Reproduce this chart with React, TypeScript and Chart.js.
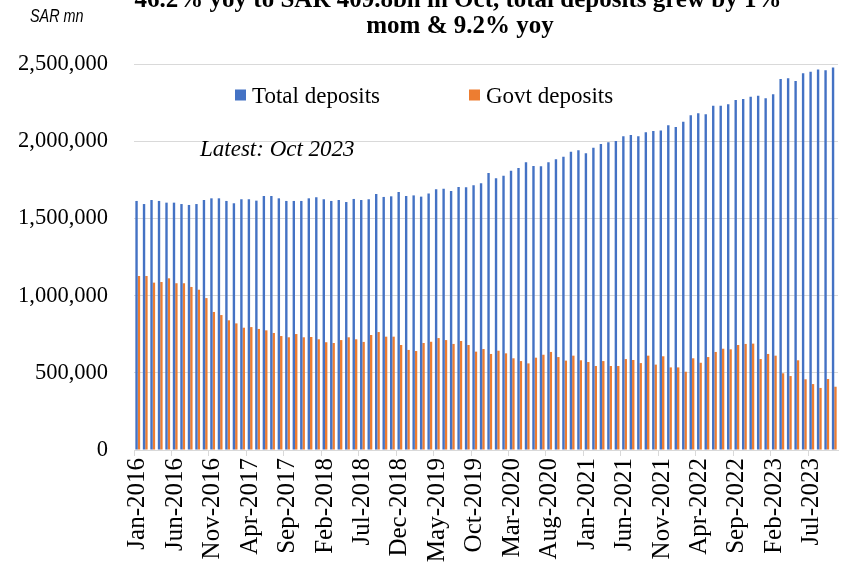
import React, { useEffect, useRef } from "react";
import { Chart, registerables } from "chart.js";

Chart.register(...registerables);

const categories: string[] = [
  "Jan-2016", "Feb-2016", "Mar-2016", "Apr-2016", "May-2016", "Jun-2016", "Jul-2016", "Aug-2016", "Sep-2016", "Oct-2016", "Nov-2016", "Dec-2016",
  "Jan-2017", "Feb-2017", "Mar-2017", "Apr-2017", "May-2017", "Jun-2017", "Jul-2017", "Aug-2017", "Sep-2017", "Oct-2017", "Nov-2017", "Dec-2017",
  "Jan-2018", "Feb-2018", "Mar-2018", "Apr-2018", "May-2018", "Jun-2018", "Jul-2018", "Aug-2018", "Sep-2018", "Oct-2018", "Nov-2018", "Dec-2018",
  "Jan-2019", "Feb-2019", "Mar-2019", "Apr-2019", "May-2019", "Jun-2019", "Jul-2019", "Aug-2019", "Sep-2019", "Oct-2019", "Nov-2019", "Dec-2019",
  "Jan-2020", "Feb-2020", "Mar-2020", "Apr-2020", "May-2020", "Jun-2020", "Jul-2020", "Aug-2020", "Sep-2020", "Oct-2020", "Nov-2020", "Dec-2020",
  "Jan-2021", "Feb-2021", "Mar-2021", "Apr-2021", "May-2021", "Jun-2021", "Jul-2021", "Aug-2021", "Sep-2021", "Oct-2021", "Nov-2021", "Dec-2021",
  "Jan-2022", "Feb-2022", "Mar-2022", "Apr-2022", "May-2022", "Jun-2022", "Jul-2022", "Aug-2022", "Sep-2022", "Oct-2022", "Nov-2022", "Dec-2022",
  "Jan-2023", "Feb-2023", "Mar-2023", "Apr-2023", "May-2023", "Jun-2023", "Jul-2023", "Aug-2023", "Sep-2023", "Oct-2023",
];

const totalDeposits: number[] = [
  1613000, 1593000, 1619000, 1613000, 1602000, 1602000, 1593000, 1587000, 1593000, 1619000, 1630000, 1630000,
  1613000, 1598000, 1624000, 1624000, 1615000, 1645000, 1645000, 1630000, 1613000, 1613000, 1613000, 1630000,
  1637000, 1624000, 1613000, 1619000, 1606000, 1626000, 1619000, 1624000, 1658000, 1639000, 1643000, 1671000,
  1645000, 1649000, 1641000, 1662000, 1688000, 1692000, 1677000, 1703000, 1701000, 1714000, 1727000, 1794000,
  1760000, 1777000, 1809000, 1826000, 1863000, 1839000, 1837000, 1863000, 1883000, 1900000, 1932000, 1941000,
  1922000, 1958000, 1982000, 1993000, 2001000, 2032000, 2040000, 2032000, 2058000, 2066000, 2070000, 2103000,
  2092000, 2126000, 2168000, 2181000, 2174000, 2230000, 2230000, 2239000, 2267000, 2273000, 2288000, 2295000,
  2278000, 2304000, 2403000, 2407000, 2390000, 2440000, 2450000, 2465000, 2459000, 2478000,
];

const govtDeposits: number[] = [
  1127000, 1127000, 1084000, 1088000, 1112000, 1080000, 1080000, 1056000, 1038000, 984000, 894000, 874000,
  840000, 820000, 792000, 796000, 784000, 775000, 758000, 738000, 730000, 751000, 730000, 732000,
  717000, 698000, 693000, 712000, 730000, 717000, 700000, 745000, 764000, 734000, 734000, 680000,
  648000, 641000, 693000, 701000, 725000, 712000, 687000, 706000, 680000, 637000, 654000, 622000,
  643000, 626000, 594000, 576000, 561000, 598000, 617000, 635000, 602000, 579000, 611000, 581000,
  570000, 544000, 576000, 544000, 544000, 589000, 583000, 563000, 611000, 553000, 607000, 535000,
  535000, 507000, 594000, 565000, 602000, 635000, 656000, 652000, 680000, 687000, 689000, 589000,
  622000, 611000, 497000, 479000, 581000, 458000, 427000, 402000, 460000, 409800,
];

const seriesNames = ["Total deposits", "Govt deposits"];
const seriesColors = ["#4472C4", "#ED7D31"];
const titleLines = ["46.2% yoy to SAR 409.8bn in Oct, total deposits grew by 1%", "mom & 9.2% yoy"];
const unitLabel = "SAR mn";
const noteLabel = "Latest: Oct 2023";
const yMax = 2500000;
const yStep = 500000;
const labelEvery = 5;

const SERIF = "'Liberation Serif', 'Times New Roman', serif";

const annotationsPlugin = {
  id: "annotations",
  afterDraw(chart: any) {
    const ctx = chart.ctx;
    ctx.save();
    // title
    ctx.fillStyle = "#000";
    ctx.textAlign = "center";
    ctx.textBaseline = "alphabetic";
    ctx.font = `bold 25px ${SERIF}`;
    ctx.fillText(titleLines[0], 458, 7);
    ctx.fillText(titleLines[1], 460, 33);
    // unit label (condensed italic sans)
    ctx.textAlign = "left";
    ctx.save();
    ctx.translate(30, 22);
    ctx.scale(0.8, 1);
    ctx.font = "italic 18px 'Liberation Sans', Arial, sans-serif";
    ctx.fillText(unitLabel, 0, 0);
    ctx.restore();
    // note
    ctx.font = `italic 23px ${SERIF}`;
    ctx.fillText(noteLabel, 200, 156);
    // legend
    const legendPos = [
      { x: 235, y: 89.5 },
      { x: 469, y: 89.5 },
    ];
    ctx.font = `23px ${SERIF}`;
    chart.data.datasets.forEach((ds: any, i: number) => {
      const p = legendPos[i];
      ctx.fillStyle = ds.backgroundColor;
      ctx.fillRect(p.x, p.y, 11, 11);
      ctx.fillStyle = "#000";
      ctx.fillText(ds.label, p.x + 17, 103);
    });
    ctx.restore();
  },
};

export default function App() {
  const canvasRef = useRef<HTMLCanvasElement | null>(null);

  useEffect(() => {
    if (!canvasRef.current) return;
    const chart = new Chart(canvasRef.current, {
      type: "bar",
      data: {
        labels: categories,
        datasets: [
          {
            label: seriesNames[0],
            data: totalDeposits,
            backgroundColor: seriesColors[0],
            categoryPercentage: 0.64,
            barPercentage: 1.0,
          },
          {
            label: seriesNames[1],
            data: govtDeposits,
            backgroundColor: seriesColors[1],
            categoryPercentage: 0.64,
            barPercentage: 1.0,
          },
        ],
      },
      options: {
        responsive: true,
        maintainAspectRatio: false,
        animation: false,
        layout: { padding: { left: 18, right: 4, top: 64, bottom: 0 } },
        plugins: {
          legend: { display: false },
          title: { display: false },
          tooltip: { enabled: false },
        },
        scales: {
          x: {
            offset: true,
            afterFit: (s: any) => {
              s.paddingLeft = 0;
              s.paddingRight = 0;
              s.height = 112;
            },
            grid: {
              offset: true,
              drawOnChartArea: false,
              drawTicks: true,
              tickLength: 6,
              color: (c: any) => (c.index % labelEvery === 0 ? "#d9d9d9" : "rgba(0,0,0,0)"),
            },
            border: { display: true, color: "#d9d9d9" },
            ticks: {
              autoSkip: false,
              maxRotation: 90,
              minRotation: 90,
              padding: 2,
              color: "#000",
              font: { family: SERIF, size: 25 },
              callback: (_v: any, i: number) => (i % labelEvery === 0 ? categories[i] : ""),
            },
          },
          y: {
            min: 0,
            max: yMax,
            afterFit: (s: any) => {
              s.width = 116;
            },
            grid: { color: "#d9d9d9", drawTicks: false, lineWidth: 1 },
            border: { display: false },
            ticks: {
              stepSize: yStep,
              padding: 26,
              color: "#000",
              font: { family: SERIF, size: 22.5 },
              callback: (v: any) => Number(v).toLocaleString("en-US"),
            },
          },
        },
      },
      plugins: [annotationsPlugin],
    });
    return () => chart.destroy();
  }, []);

  return (
    <div style={{ position: "fixed", left: 0, top: 0, width: 842, height: 562, background: "#fff" }}>
      <canvas ref={canvasRef} />
    </div>
  );
}
